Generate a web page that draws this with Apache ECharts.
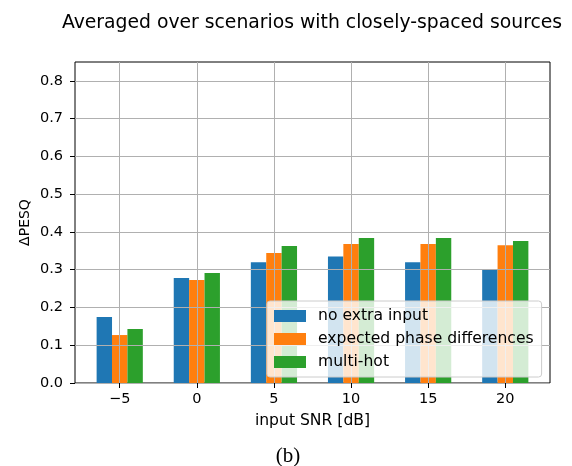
<!DOCTYPE html>
<html>
<head>
<meta charset="utf-8">
<script src="https://cdn.jsdelivr.net/npm/echarts@6/dist/echarts.min.js"></script>
<style>html,body{margin:0;padding:0;background:#fff}#c{width:572px;height:466px}</style>
</head>
<body>
<div id="c"></div>
<script>
const snr = [-5, 0, 5, 10, 15, 20];
const yTicks = [0, 0.1, 0.2, 0.3, 0.4, 0.5, 0.6, 0.7, 0.8];
const seriesNames = ['no extra input', 'expected phase differences', 'multi-hot'];
const noExtra = [0.175, 0.278, 0.320, 0.335, 0.320, 0.302];
const phaseDiff = [0.127, 0.273, 0.344, 0.368, 0.368, 0.365];
const multiHot = [0.143, 0.291, 0.363, 0.384, 0.384, 0.376];
const colors = ['#1f77b4', '#ff7f0e', '#2ca02c'];

const font = 'DejaVu Sans';
const chart = echarts.init(document.getElementById('c'), null, {renderer: 'canvas'});
const mk = (name, vals, i) => ({
  name: name, type: 'bar', data: snr.map((x, k) => [x, vals[k]]),
  barWidth: 15.4, barGap: '0%', itemStyle: {color: colors[i]}, z: 2
});
chart.setOption({
  animation: false,
  title: [
    {text: 'Averaged over scenarios with closely-spaced sources', left: 307, top: 9, textAlign: 'center',
     textStyle: {fontFamily: font, fontSize: 18.8, fontWeight: 'normal', color: '#000'}},
    {text: '(b)', left: 283, top: 441, textAlign: 'center',
     textStyle: {fontFamily: 'Liberation Serif', fontSize: 21, fontWeight: 'normal', color: '#000'}}
  ],
  grid: {left: 75, right: 22, top: 62, bottom: 83, show: true, borderColor: '#000', borderWidth: 1, backgroundColor: 'transparent'},
  legend: {
    orient: 'vertical', left: 267, top: 301, itemWidth: 32, itemHeight: 12, itemGap: 7,
    padding: [7, 8, 7, 7], borderColor: '#cccccc', borderWidth: 1, borderRadius: 3,
    backgroundColor: 'rgba(255,255,255,0.8)', z: 10, icon: 'rect',
    textStyle: {fontFamily: font, fontSize: 15.6, color: '#000', padding: [0, 0, 0, 7]},
    data: seriesNames
  },
  xAxis: {
    type: 'value', min: -7.9, max: 22.9, z: 3,
    name: 'input SNR [dB]', nameLocation: 'middle', nameGap: 30,
    nameTextStyle: {fontFamily: font, fontSize: 15.6, color: '#000'},
    axisLine: {show: false, onZero: false},
    axisTick: {show: true, length: 5, lineStyle: {color: '#000'}, customValues: snr},
    axisLabel: {customValues: snr, fontFamily: font, fontSize: 14.5, color: '#000', margin: 9,
      formatter: v => (v < 0 ? '\u2212' + Math.abs(v) : String(v))},
    splitLine: {show: true, lineStyle: {color: '#b0b0b0', width: 1}}
  },
  yAxis: {
    type: 'value', min: 0, max: 0.85, z: 3,
    name: '\u0394PESQ', nameLocation: 'middle', nameGap: 43, nameMoveOverlap: false,
    nameTextStyle: {fontFamily: font, fontSize: 14, color: '#000'},
    axisLine: {show: false, onZero: false},
    axisTick: {show: true, length: 5, lineStyle: {color: '#000'}, customValues: yTicks},
    axisLabel: {customValues: yTicks, fontFamily: font, fontSize: 14.5, color: '#000', margin: 12,
      formatter: v => v.toFixed(1)},
    splitLine: {show: true, lineStyle: {color: '#b0b0b0', width: 1}}
  },
  series: [mk(seriesNames[0], noExtra, 0), mk(seriesNames[1], phaseDiff, 1), mk(seriesNames[2], multiHot, 2)]
});
</script>
</body>
</html>
